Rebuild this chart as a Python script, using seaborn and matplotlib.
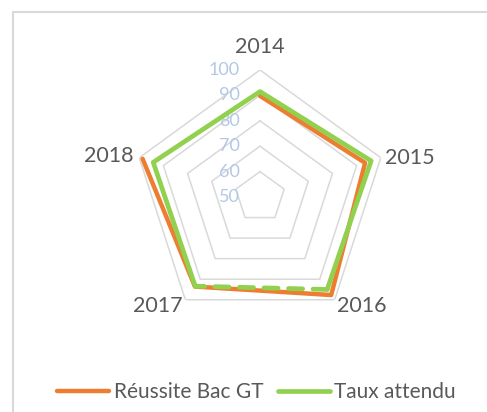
import numpy as np
import matplotlib
matplotlib.use("Agg")
from matplotlib import pyplot as plt
from matplotlib.patches import Rectangle
from matplotlib.transforms import offset_copy
import seaborn as sns

# data
years = ["2014", "2015", "2016", "2017", "2018"]
reussite = [89.8, 93.5, 97.7, 93.6, 98.6]
attendu = [91.5, 96.0, 95.0, 93.4, 94.2]
ring_values = [60, 70, 80, 90, 100]
tick_values = [50, 60, 70, 80, 90, 100]

# label offsets (pixels) from the outer vertex of each spoke
label_dx = [0, 29, 27, -28, -30]
label_dy = [23, 0, -6, -6, 2]

sns.set_theme(style="white")
plt.rcParams["font.family"] = ["Lato", "DejaVu Sans"]

fig = plt.figure(figsize=(4.87, 4.12), dpi=100)
ax = fig.add_axes([0.2731, 0.2136, 0.5216, 0.6165], projection="polar")
ax.set_theta_offset(np.pi / 2)
ax.set_theta_direction(-1)

theta = np.linspace(0, 2 * np.pi, len(years), endpoint=False)
theta_closed = np.append(theta, theta[0])

# pentagon rings
for v in ring_values:
    ax.plot(theta_closed, [v] * len(theta_closed), color="#d9d9d9", lw=1.1, zorder=1)

orange = "#ed7d31"
green = "#92d050"

sns.lineplot(x=theta_closed, y=np.append(reussite, reussite[0]), sort=False,
             ax=ax, color=orange, lw=3.2, label="Réussite Bac GT", zorder=3)
# green series: solid everywhere except the 2016 -> 2017 segment, which is dashed
solid_idx = [3, 4, 0, 1, 2]
sns.lineplot(x=theta[solid_idx], y=np.array(attendu)[solid_idx], sort=False,
             ax=ax, color=green, lw=3.4, label="Taux attendu", zorder=4)
ax.plot(theta[[2, 3]], np.array(attendu)[[2, 3]], color=green, lw=3.4,
        ls=(0, (3, 2.2)), dash_capstyle="round", zorder=5)

ax.set_ylim(50, 100)
ax.set_xticks(theta)
ax.set_xticklabels([])
ax.set_yticks(tick_values)
ax.set_yticklabels([])
ax.grid(False)
ax.spines["polar"].set_visible(False)
ax.set_facecolor("none")
ax.set_xlabel("")
ax.set_ylabel("")

# category labels
for t, lab, dx, dy in zip(theta, years, label_dx, label_dy):
    tr = offset_copy(ax.transData, fig=fig, x=dx, y=dy, units="dots")
    ax.text(t, 100, lab, transform=tr, ha="center", va="center",
            fontsize=15.5, color="#595959", clip_on=False)

# radial tick labels
tr_r = offset_copy(ax.transData, fig=fig, x=-20, y=0, units="dots")
for v in tick_values:
    ax.text(0, v, str(v), transform=tr_r, ha="right", va="center",
            fontsize=13, color="#b4c7e7", clip_on=False)

# legend
handles, labels = ax.get_legend_handles_labels()
ax.legend_.remove()
for h in handles:
    h.set_solid_capstyle("round")
fig.legend(handles[:2], labels[:2], loc="center", ncol=2,
           bbox_to_anchor=(256.5 / 487, 1 - 392 / 412), frameon=False,
           fontsize=15, labelcolor="#595959", handlelength=2.5,
           handletextpad=0.2, columnspacing=0.7)

# chart frame (cropped at right and bottom)
fig.patches.append(Rectangle((13 / 487, -0.1), 1.2, 1 - 12 / 412 + 0.1,
                             transform=fig.transFigure, fill=False,
                             edgecolor="#d9d9d9", lw=1.5))

fig.savefig("out.png", dpi=100)
